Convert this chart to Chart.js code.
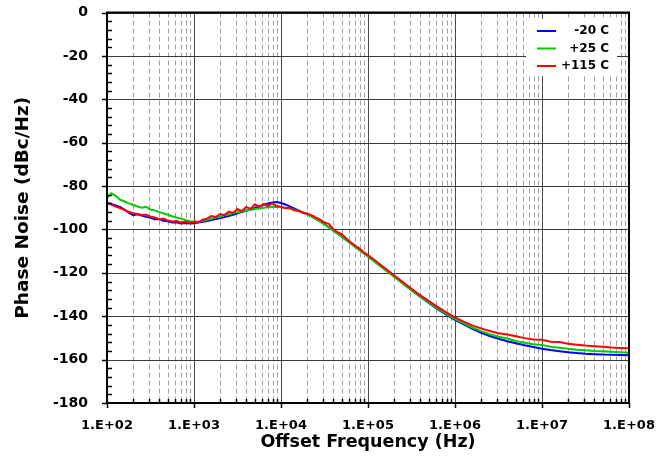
<!DOCTYPE html>
<html><head><meta charset="utf-8">
<script src="https://cdn.jsdelivr.net/npm/chart.js@4/dist/chart.umd.min.js"></script>
<style>html,body{margin:0;padding:0;background:#fff;}#wrap{width:658px;height:465px;}</style>
</head><body><div id="wrap"><canvas id="c" width="658" height="465"></canvas></div>
<script>
// ---- data ----
const freqHz = [
100,112,126,141,158,178,200,224,251,282,
316,355,398,447,501,562,631,708,794,891,
1000,1122,1259,1413,1585,1778,1995,2239,2512,2818,
3162,3548,3981,4467,5012,5623,6310,7079,7943,8913,
10000,11220,12589,14125,15849,17783,19953,22387,25119,28184,
31623,35481,39811,44668,50119,56234,63096,70795,79433,89125,
100000,125893,158489,199526,251189,316228,398107,501187,630957,794328,
1000000,1258925,1584893,1995262,2511886,3162278,3981072,5011872,6309573,7943282,
10000000,12589254,15848932,19952623,25118864,31622777,39810717,50118723,63095734,79432823,
100000000];
const seriesLabels = ['-20 C', '+25 C', '+115 C'];
const pnMinus20 = [
-87.8,-88.3,-88.9,-89.6,-90.8,-92.3,-93.4,-93.0,-93.6,-94.2,
-94.6,-95.3,-95.2,-96.0,-96.2,-96.8,-96.7,-97.2,-97.0,-97.3,
-97.1,-96.8,-96.5,-96.1,-95.7,-95.2,-94.8,-94.3,-93.8,-93.2,
-92.6,-92.0,-91.4,-90.8,-90.1,-89.4,-88.7,-88.0,-87.6,-87.4,
-87.8,-88.5,-89.4,-90.3,-91.2,-92.1,-93.0,-94.0,-95.1,-96.3,
-97.6,-99.0,-100.4,-101.8,-103.3,-104.8,-106.3,-107.8,-109.3,-110.8,
-112.3,-115.5,-118.6,-121.7,-124.8,-128.0,-131.0,-133.9,-136.7,-139.3,
-141.7,-143.8,-145.8,-147.6,-149.1,-150.4,-151.5,-152.5,-153.4,-154.2,
-155.0,-155.6,-156.1,-156.6,-157.0,-157.3,-157.5,-157.7,-157.8,-157.9,
-158.0];
const pnPlus25 = [
-85.6,-83.3,-84.5,-86.3,-87.0,-88.0,-88.6,-89.4,-90.0,-89.6,
-90.8,-91.2,-92.0,-92.6,-93.2,-93.9,-94.5,-95.0,-95.6,-96.2,
-96.4,-96.5,-96.0,-95.5,-95.0,-94.5,-94.0,-93.5,-93.0,-92.5,
-92.1,-91.7,-91.3,-90.9,-90.6,-90.3,-90.0,-89.8,-89.6,-89.6,
-89.7,-90.0,-90.4,-90.9,-91.4,-92.1,-93.0,-94.0,-95.1,-96.3,
-97.7,-99.1,-100.5,-101.9,-103.4,-104.9,-106.4,-107.9,-109.4,-110.9,
-112.4,-115.6,-118.7,-121.8,-124.9,-128.0,-130.9,-133.7,-136.4,-138.9,
-141.2,-143.3,-145.2,-146.9,-148.3,-149.5,-150.3,-151.4,-152.2,-152.9,
-153.3,-154.1,-154.5,-155.0,-155.4,-155.7,-156.0,-156.2,-156.4,-156.6,
-156.8];
const pnPlus115 = [
-87.5,-88.6,-89.4,-90.2,-91.0,-91.8,-92.5,-92.9,-93.3,-93.2,
-94.1,-94.5,-95.3,-95.0,-95.9,-96.3,-96.1,-96.8,-96.4,-96.9,
-96.5,-96.7,-95.5,-95.0,-93.8,-94.3,-92.9,-93.4,-91.8,-92.4,
-90.6,-91.6,-89.6,-90.5,-88.4,-89.6,-88.2,-89.2,-87.9,-89.2,
-89.6,-90.2,-90.0,-91.2,-91.4,-92.3,-92.6,-93.4,-94.5,-95.5,
-96.8,-97.4,-99.8,-101.3,-102.3,-104.2,-105.9,-107.4,-108.7,-110.5,
-111.8,-114.9,-118.0,-121.1,-124.2,-127.3,-130.3,-133.0,-135.7,-138.2,
-140.5,-142.5,-144.2,-145.6,-146.8,-147.8,-148.4,-149.2,-150.1,-150.7,
-150.9,-151.8,-151.9,-152.7,-153.1,-153.5,-153.8,-154.1,-154.4,-154.6,
-154.8];
const xTickValues = [1e2, 1e3, 1e4, 1e5, 1e6, 1e7, 1e8];
const yMin = -180, yMax = 0, yStep = 20, yMinorStep = 4;
const seriesColors = ['#0000ff', '#00cc00', '#ff0000'];

const fmtSci = v => '1.E+' + String(Math.round(Math.log10(v))).padStart(2, '0');
const toXY = arr => freqHz.map((f, i) => ({x: f, y: arr[i]}));
const zeroPad = s => { s.paddingLeft = 0; s.paddingRight = 0; s.paddingTop = 0; s.paddingBottom = 0; };

// ---- grid / frame plugin ----
const gridPlugin = {
  id: 'gridPlugin',
  beforeDatasetsDraw(chart) {
    const ctx = chart.ctx, ca = chart.chartArea, xs = chart.scales.x, ys = chart.scales.y;
    ctx.save();
    ctx.strokeStyle = '#a0a0a0'; ctx.lineWidth = 1; ctx.setLineDash([5, 3]);
    for (let d = 0; d < xTickValues.length - 1; d++) {
      for (let m = 2; m <= 9; m++) {
        const px = Math.round(xs.getPixelForValue(xTickValues[d] * m)) + 0.5;
        ctx.beginPath(); ctx.moveTo(px, ca.top); ctx.lineTo(px, ca.bottom); ctx.stroke();
      }
    }
    ctx.setLineDash([]);
    ctx.strokeStyle = '#4a4a4a';
    xTickValues.forEach(v => {
      const px = Math.round(xs.getPixelForValue(v)) + 0.5;
      ctx.beginPath(); ctx.moveTo(px, ca.top); ctx.lineTo(px, ca.bottom); ctx.stroke();
    });
    ctx.strokeStyle = '#3a3a3a';
    for (let v = yMin; v <= yMax; v += yStep) {
      const py = Math.round(ys.getPixelForValue(v)) + 0.5;
      ctx.beginPath(); ctx.moveTo(ca.left, py); ctx.lineTo(ca.right, py); ctx.stroke();
    }
    ctx.restore();
  },
  afterDatasetsDraw(chart) {
    const ctx = chart.ctx, ca = chart.chartArea, xs = chart.scales.x, ys = chart.scales.y;
    ctx.save();
    ctx.strokeStyle = '#000'; ctx.lineWidth = 1.5;
    for (let v = yMin; v <= yMax; v += yMinorStep) {
      if (v % yStep === 0) continue;
      const py = Math.round(ys.getPixelForValue(v)) + 0.5;
      ctx.beginPath(); ctx.moveTo(ca.left, py); ctx.lineTo(ca.left + 5, py); ctx.stroke();
    }
    for (let v = yMin; v <= yMax; v += yStep) {
      const py = Math.round(ys.getPixelForValue(v)) + 0.5;
      ctx.beginPath(); ctx.moveTo(ca.left - 5, py); ctx.lineTo(ca.left, py); ctx.stroke();
    }
    for (let d = 0; d < xTickValues.length - 1; d++) {
      for (let m = 2; m <= 9; m++) {
        const px = Math.round(xs.getPixelForValue(xTickValues[d] * m)) + 0.5;
        ctx.beginPath(); ctx.moveTo(px, ca.bottom); ctx.lineTo(px, ca.bottom - 4); ctx.stroke();
      }
    }
    xTickValues.forEach(v => {
      const px = Math.round(xs.getPixelForValue(v)) + 0.5;
      ctx.beginPath(); ctx.moveTo(px, ca.bottom); ctx.lineTo(px, ca.bottom + 5); ctx.stroke();
    });
    ctx.lineWidth = 2;
    ctx.strokeRect(ca.left, ca.top, ca.right - ca.left, ca.bottom - ca.top);
    ctx.restore();
  },
  afterDraw(chart) {
    const ctx = chart.ctx;
    const box = {x: 526, y: 19, w: 91, h: 57};
    ctx.save();
    ctx.fillStyle = '#fff';
    ctx.fillRect(box.x, box.y, box.w, box.h);
    ctx.font = 'bold 12px "DejaVu Sans"';
    ctx.textAlign = 'right'; ctx.textBaseline = 'middle';
    chart.data.datasets.forEach((ds, i) => {
      const yy = 31 + i * 17.5;
      ctx.strokeStyle = ds.borderColor; ctx.lineWidth = 2;
      ctx.beginPath(); ctx.moveTo(537, yy); ctx.lineTo(556, yy); ctx.stroke();
      ctx.fillStyle = '#000';
      ctx.fillText(ds.label, 609, yy);
    });
    ctx.restore();
  }
};

new Chart(document.getElementById('c'), {
  type: 'line',
  data: {
    datasets: [
      {label: seriesLabels[0], data: toXY(pnMinus20), borderColor: seriesColors[0], order: 3},
      {label: seriesLabels[1], data: toXY(pnPlus25), borderColor: seriesColors[1], order: 2},
      {label: seriesLabels[2], data: toXY(pnPlus115), borderColor: seriesColors[2], order: 1}
    ].map(d => Object.assign(d, {borderWidth: 2, pointRadius: 0, tension: 0, fill: false}))
  },
  options: {
    responsive: false, animation: false, devicePixelRatio: 1,
    layout: {padding: {left: 0, right: 29, top: 12.5, bottom: 0}},
    plugins: {legend: {display: false}, tooltip: {enabled: false}},
    scales: {
      x: {
        type: 'logarithmic', min: 1e2, max: 1e8,
        afterBuildTicks: s => { s.ticks = xTickValues.map(v => ({value: v})); },
        afterFit: s => { s.height = 62; zeroPad(s); },
        grid: {display: false, drawTicks: false},
        border: {display: false},
        ticks: {autoSkip: false, maxRotation: 0, padding: 14.5, color: '#000',
                font: {family: 'DejaVu Sans', weight: 'bold', size: 13},
                callback: v => fmtSci(v)},
        title: {display: true, text: 'Offset Frequency (Hz)', color: '#000',
                font: {family: 'DejaVu Sans', weight: 'bold', size: 17.5},
                padding: {top: 0, bottom: 12}}
      },
      y: {
        type: 'linear', min: yMin, max: yMax,
        afterFit: s => { s.width = 107; zeroPad(s); },
        grid: {display: false, drawTicks: false},
        border: {display: false},
        ticks: {stepSize: yStep, padding: 19, color: '#000',
                font: {family: 'DejaVu Sans', weight: 'bold', size: 14}},
        title: {display: true, text: 'Phase Noise (dBc/Hz)', color: '#000',
                font: {family: 'DejaVu Sans', weight: 'bold', size: 18.5},
                padding: {top: 12, bottom: 0}}
      }
    }
  },
  plugins: [gridPlugin]
});
</script>
</body></html>
